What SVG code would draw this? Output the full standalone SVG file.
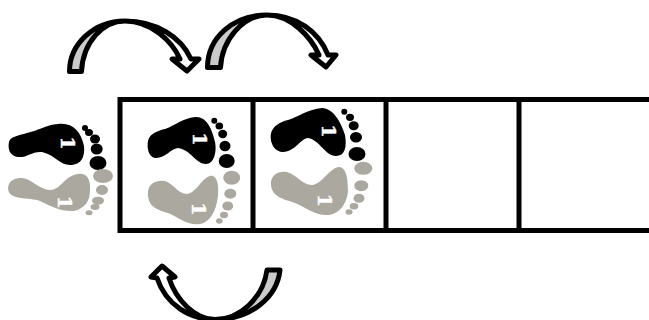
<svg xmlns="http://www.w3.org/2000/svg" width="649" height="320" viewBox="0 0 649 320">
<style>
.k{fill:#000}.g{fill:#aaa89f}
.n{fill:#fff;stroke:#fff;stroke-width:.4;font-family:"DejaVu Serif",serif;font-weight:bold;font-size:19px;text-anchor:middle}
.arr{stroke:#000;stroke-width:5;stroke-linejoin:round}
.grid{fill:none;stroke:#000;stroke-width:5}
</style>
<defs>
<linearGradient id="sr" x1="0" y1="0" x2="1" y2="0"><stop offset="0" stop-color="#c8c8c8"/><stop offset=".33" stop-color="#d2d2d2"/><stop offset=".42" stop-color="#fff"/></linearGradient>
<linearGradient id="sl" x1="1" y1="0" x2="0" y2="0"><stop offset="0" stop-color="#c8c8c8"/><stop offset=".33" stop-color="#d2d2d2"/><stop offset=".42" stop-color="#fff"/></linearGradient>
</defs>
<g id="cells"><path class="grid" d="M649 99.500H120V230.500H649M253 99.500V230.500M386 99.500V230.500M519 99.500V230.500"/></g>
<g id="foot-start">
<path class="k" d="M8.700 144C9 136 18 136 27 133C37 131 46 125 58 124C72 122 81 131 84 146C85 156 82 165 70 165C60 165 55 155 42 152C32 151 27 158 18 157C11 156 8 151 8.700 144Z"/>
<circle class="k" cx="85" cy="128" r="3"/><ellipse class="k" cx="89" cy="132.500" rx="4" ry="3.500"/><ellipse class="k" cx="95" cy="139" rx="5" ry="4.500"/><ellipse class="k" cx="96.700" cy="149" rx="6" ry="5.500"/><ellipse class="k" cx="98" cy="163" rx="8.500" ry="7"/>
<text class="n" transform="translate(61 143) rotate(90)">1</text>
<path class="g" d="M8 188C9 180 15 178 22 178C32 179 40 190 50 190C60 190 64 178 74 175C84 171 91 176 90 190C90 200 86 208 74 211C62 212 50 206 40 201C30 197 8 201 8 188Z"/>
<ellipse class="g" cx="103" cy="176" rx="10" ry="7"/><ellipse class="g" cx="102" cy="190" rx="6" ry="5"/><ellipse class="g" cx="98" cy="200.700" rx="6" ry="4"/><ellipse class="g" cx="95" cy="207" rx="4.500" ry="3"/><ellipse class="g" cx="89" cy="212.700" rx="3.500" ry="2.500"/>
<text class="n" transform="translate(58.300 202.300) rotate(90)">1</text>
</g>
<g id="foot-cell-1">
<path class="k" d="M147.700 143C148 135 156 131 165 129C174 126 183 118 195 117C206 116 212 128 215 142C217 152 214 164 206 164C196 164 191 150 178 148C170 149 166 158 156 158C150 158 147 151 147.700 143Z"/>
<circle class="k" cx="214.300" cy="120.700" r="3"/><ellipse class="k" cx="219.300" cy="126" rx="3.800" ry="3.500"/><ellipse class="k" cx="222.700" cy="134" rx="4.500" ry="4.200"/><ellipse class="k" cx="225" cy="146" rx="5.500" ry="5.300"/><ellipse class="k" cx="226.700" cy="161" rx="8" ry="7"/>
<text class="n" transform="translate(193.300 139) rotate(90)">1</text>
<path class="g" d="M148 192C149 183 156 180 165 181C173 183 178 194 187 194C196 193 202 178 210 176C217 174 219 185 218 195C217 207 212 222 200 224C188 226 178 217 168 213C158 210 147 207 148 192Z"/>
<ellipse class="g" cx="231.700" cy="177.700" rx="8.500" ry="7"/><ellipse class="g" cx="230.300" cy="193.700" rx="6" ry="5"/><ellipse class="g" cx="227.700" cy="206" rx="5.500" ry="4.500"/><ellipse class="g" cx="224" cy="215" rx="4" ry="3.300"/><ellipse class="g" cx="219.300" cy="221" rx="3.300" ry="2.700"/>
<text class="n" transform="translate(191.700 209) rotate(90)">1</text>
</g>
<g id="foot-cell-2">
<path class="k" d="M270.700 135C272 126 280 122 288 120C298 117 308 109 322 108C333 108 341 122 345 135C347 147 345 156 336 156C325 156 320 140 308 138C300 139 296 151 283 152C275 152 270 144 270.700 135Z"/>
<circle class="k" cx="344.300" cy="111.700" r="3"/><ellipse class="k" cx="350" cy="117.300" rx="4" ry="3.600"/><ellipse class="k" cx="353.700" cy="125.700" rx="5" ry="4.500"/><ellipse class="k" cx="356" cy="137.300" rx="6" ry="5.300"/><ellipse class="k" cx="357" cy="154" rx="8.500" ry="7"/>
<text class="n" transform="translate(321.700 131) rotate(90)">1</text>
<path class="g" d="M271 182C272 174 279 171 287 172C296 174 302 185 312 185C322 184 328 170 338 167C346 166 348 178 348 191C347 203 340 214 328 215C316 216 305 207 295 203C284 199 270 197 271 182Z"/>
<ellipse class="g" cx="363.300" cy="168.300" rx="9" ry="6.500"/><ellipse class="g" cx="361.300" cy="185.700" rx="7" ry="5.500"/><ellipse class="g" cx="359" cy="198.300" rx="5.500" ry="4.500"/><ellipse class="g" cx="354" cy="206.300" rx="4.300" ry="3.300"/><ellipse class="g" cx="349" cy="212" rx="3.500" ry="2.700"/>
<text class="n" transform="translate(318.300 200.300) rotate(90)">1</text>
</g>
<g id="connectors">
<path id="arrow-1" class="arr" fill="url(#sr)" d="M69.500 71.500C69.500 44 94 21 125 21C156 21 181 37 191 59L199 59L187 71L172 59L180 59C172 41 151 21 125 21C103 21 83 42 81.500 71.500Z"/>
<path id="arrow-2" class="arr" fill="url(#sr)" d="M207.500 67.500C207.500 38 233 15 267 15C297 15 319 32 328 55L336 55L326 67L311 55L319 55C311 37 291 15 267 15C243 15 222 40 220.500 67.500Z"/>
<path id="arrow-3" class="arr" fill="url(#sl)" d="M280 270C277 298 250 319.500 215 319.500C190 319.500 166 305 157 278L151 277L162 266L175 277L169 278C176 300 195 319.500 215 319.500C240 319.500 263 298 267 270Z"/>
</g>
</svg>
